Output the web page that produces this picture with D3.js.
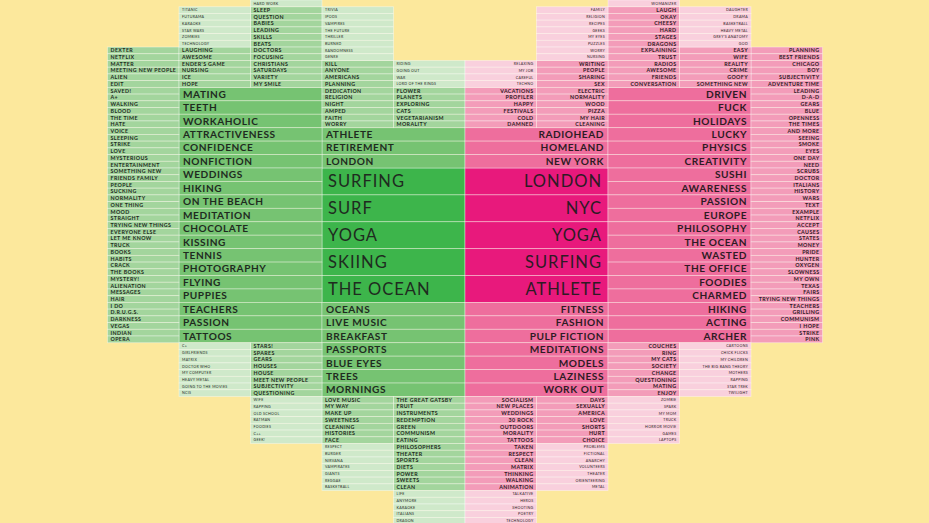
<!DOCTYPE html>
<html><head><meta charset="utf-8">
<script src="https://cdn.jsdelivr.net/npm/d3@7"></script>
<style>html,body{margin:0;padding:0;background:#fce89c;overflow:hidden}</style>
</head><body>
<svg id="chart" width="929" height="523"></svg>
<script>
// ---------- DATA (green side) ----------
const greenLarge = ["SURFING","SURF","YOGA","SKIING","THE OCEAN"];
const greenMediumTop = ["ATHLETE","RETIREMENT","LONDON"];
const greenMediumSide = ["MATING","TEETH","WORKAHOLIC","ATTRACTIVENESS","CONFIDENCE","NONFICTION","WEDDINGS","HIKING","ON THE BEACH","MEDITATION","CHOCOLATE","KISSING","TENNIS","PHOTOGRAPHY","FLYING","PUPPIES","TEACHERS","PASSION","TATTOOS"];
const greenMediumBottom = ["OCEANS","LIVE MUSIC","BREAKFAST","PASSPORTS","BLUE EYES","TREES","MORNINGS"];
const greenSmallA = ["DEXTER","NETFLIX","MATTER","MEETING NEW PEOPLE","ALIEN","EDIT","SAVED!","A+","WALKING","BLOOD","THE TIME","HATE","VOICE","SLEEPING","STRIKE","LOVE","MYSTERIOUS","ENTERTAINMENT","SOMETHING NEW","FRIENDS FAMILY","PEOPLE","SUCKING","NORMALITY","ONE THING","MOOD","STRAIGHT","TRYING NEW THINGS","EVERYONE ELSE","LET ME KNOW","TRUCK","BOOKS","HABITS","CRACK","THE BOOKS","MYSTERY!","ALIENATION","MESSAGES","HAIR","I DO","D.R.U.G.S.","DARKNESS","VEGAS","INDIAN","OPERA"];
const greenSmallB = ["LAUGHING","AWESOME","ENDER'S GAME","NURSING","ICE","HOPE"];
const greenSmallC = ["SLEEP","QUESTION","BABIES","LEADING","SKILLS","BEATS","DOCTORS","FOCUSING","CHRISTIANS","SATURDAYS","VARIETY","MY SMILE"];
const greenSmallD = ["KILL","ANYONE","AMERICANS","PLANNING","DEDICATION","RELIGION","NIGHT","AMPED","FAITH","WORRY"];
const greenSmallE = ["FLOWER","PLANETS","EXPLORING","CATS","VEGETARIANISM","MORALITY"];
const greenSmallC2 = ["STARS!","SPARES","GEARS","HOUSES","HOUSE","MEET NEW PEOPLE","SUBJECTIVITY","QUESTIONING"];
const greenSmallD2 = ["LOVE MUSIC","MY WAY","MAKE UP","SWEETNESS","CLEANING","HISTORIES","FACE"];
const greenSmallE2 = ["THE GREAT GATSBY","FRUIT","INSTRUMENTS","REDEMPTION","GREEN","COMMUNISM","EATING","PHILOSOPHERS","THEATER","SPORTS","DIETS","POWER","SWEETS","CLEAN"];
const greenTinyB = ["TITANIC","FUTURAMA","KARAOKE","STAR WARS","ZOMBIES","TECHNOLOGY"];
const greenTinyC = ["HARD WORK"];
const greenTinyD = ["TRIVIA","IPODS","VAMPIRES","THE FUTURE","THRILLER","BURNED","RANDOMNESS","GENRE"];
const greenTinyE = ["RIDING","GOING OUT","WAR","LORD OF THE RINGS"];
const greenTinyB2 = ["C+","GIRLFRIENDS","MATRIX","DOCTOR WHO","MY COMPUTER","HEAVY METAL","GOING TO THE MOVIES","NCIS"];
const greenTinyC2 = ["WIFE","RAPPING","OLD SCHOOL","BATMAN","FOODIES","C++","GEEK!"];
const greenTinyD2 = ["RESPECT","BURGER","NIRVANA","VAMPIRATES","GIANTS","REGGAE","BASKETBALL"];
const greenTinyE2 = ["LIFE","ANYMORE","KARAOKE","ITALIANS","DRAGON"];

// ---------- DATA (pink side) ----------
const pinkLarge = ["LONDON","NYC","YOGA","SURFING","ATHLETE"];
const pinkMediumTop = ["RADIOHEAD","HOMELAND","NEW YORK"];
const pinkMediumSide = ["DRIVEN","FUCK","HOLIDAYS","LUCKY","PHYSICS","CREATIVITY","SUSHI","AWARENESS","PASSION","EUROPE","PHILOSOPHY","THE OCEAN","WASTED","THE OFFICE","FOODIES","CHARMED","HIKING","ACTING","ARCHER"];
const pinkMediumBottom = ["FITNESS","FASHION","PULP FICTION","MEDITATIONS","MODELS","LAZINESS","WORK OUT"];
const pinkSmallJ = ["PLANNING","BEST FRIENDS","CHICAGO","BOY","SUBJECTIVITY","ADVENTURE TIME","LEADING","D-A-D","GEARS","BLUE","OPENNESS","THE TIMES","AND MORE","SEEING","SMOKE","EYES","ONE DAY","NEED","SCRUBS","DOCTOR","ITALIANS","HISTORY","WARS","TEXT","EXAMPLE","NETFLIX","ACCEPT","CAUSES","STATES","MONEY","PRIDE","HUNTER","OXYGEN","SLOWNESS","MY OWN","TEXAS","FAIRS","TRYING NEW THINGS","TEACHERS","GRILLING","COMMUNISM","I HOPE","STRIKE","PINK"];
const pinkSmallI = ["EASY","WIFE","REALITY","CRIME","GOOFY","SOMETHING NEW"];
const pinkSmallH = ["LAUGH","OKAY","CHEESY","HARD","STAGES","DRAGONS","EXPLAINING","TRUST","RADIOS","AWESOME","FRIENDS","CONVERSATION"];
const pinkSmallG = ["WRITING","PEOPLE","SHARING","SEX","ELECTRIC","NORMALITY","WOOD","PIZZA","MY HAIR","CLEANING"];
const pinkSmallF = ["VACATIONS","PROFILER","HAPPY","FESTIVALS","COLD","DAMNED"];
const pinkSmallH2 = ["COUCHES","RING","MY CATS","SOCIETY","CHANGE","QUESTIONING","MATING","ENJOY"];
const pinkSmallG2 = ["DAYS","SEXUALLY","AMERICA","LOVE","SHORTS","HURT","CHOICE"];
const pinkSmallF2 = ["SOCIALISM","NEW PLACES","WEDDINGS","30 ROCK","OUTDOORS","MORALITY","TATTOOS","TAKEN","RESPECT","CLEAN","MATRIX","THINKING","WALKING","ANIMATION"];
const pinkTinyI = ["DAUGHTER","DRAMA","BASKETBALL","HEAVY METAL","GREY'S ANATOMY","GOD"];
const pinkTinyH = ["WOMANIZER"];
const pinkTinyG = ["FAMILY","RELIGION","RECIPES","GEEKS","MY EYES","PUZZLES","WORRY","NURSING"];
const pinkTinyF = ["RELAXING","MY JOB","CAREFUL","TECHNO"];
const pinkTinyI2 = ["CARTOONS","CHICK FLICKS","MY CHILDREN","THE BIG BANG THEORY","MOTHERS","RAPPING","STAR TREK","TWILIGHT"];
const pinkTinyH2 = ["ZOMBIE","SPARK","MY MOM","TRUCK","HORROR MOVIE","GAMES","LAPTOPS"];
const pinkTinyG2 = ["PROBLEMS","FICTIONAL","ANARCHY","VOLUNTEERS","THEATER","ORIENTEERING","METAL"];
const pinkTinyF2 = ["TALKATIVE","HEROS","SHOOTING","POETRY","TECHNOLOGY"];

// ---------- LAYOUT ----------
const tiers = {
  large:  {cs:2, rs:4, fs:16.5, ls:1.0, fw:400, pad:6},
  medium: {cs:2, rs:2, fs:10.1, ls:0.55, fw:700, pad:4},
  small:  {cs:1, rs:1, fs:5.3,  ls:0.4, fw:700, pad:3},
  tiny:   {cs:1, rs:1, fs:3.6,  ls:0.3, fw:400, pad:3}
};
const fills = {
  g:{large:"#3db54b", medium:"#76c372", small:"#a3d59d", tiny:"#cfe9ca"},
  p:{large:"#e8197c", medium:"#ee6e9d", small:"#f39cb9", tiny:"#f9d0dd"}
};
const blocks = [
  [greenLarge,"g","large",3,25],[greenMediumTop,"g","medium",3,19],[greenMediumSide,"g","medium",1,13],[greenMediumBottom,"g","medium",3,45],
  [greenSmallA,"g","small",0,7],[greenSmallB,"g","small",1,7],[greenSmallC,"g","small",2,1],[greenSmallD,"g","small",3,9],[greenSmallE,"g","small",4,13],
  [greenSmallC2,"g","small",2,51],[greenSmallD2,"g","small",3,59],[greenSmallE2,"g","small",4,59],
  [greenTinyB,"g","tiny",1,1],[greenTinyC,"g","tiny",2,0],[greenTinyD,"g","tiny",3,1],[greenTinyE,"g","tiny",4,9],
  [greenTinyB2,"g","tiny",1,51],[greenTinyC2,"g","tiny",2,59],[greenTinyD2,"g","tiny",3,66],[greenTinyE2,"g","tiny",4,73],
  [pinkLarge,"p","large",5,25],[pinkMediumTop,"p","medium",5,19],[pinkMediumSide,"p","medium",7,13],[pinkMediumBottom,"p","medium",5,45],
  [pinkSmallJ,"p","small",9,7],[pinkSmallI,"p","small",8,7],[pinkSmallH,"p","small",7,1],[pinkSmallG,"p","small",6,9],[pinkSmallF,"p","small",5,13],
  [pinkSmallH2,"p","small",7,51],[pinkSmallG2,"p","small",6,59],[pinkSmallF2,"p","small",5,59],
  [pinkTinyI,"p","tiny",8,1],[pinkTinyH,"p","tiny",7,0],[pinkTinyG,"p","tiny",6,1],[pinkTinyF,"p","tiny",5,9],
  [pinkTinyI2,"p","tiny",8,51],[pinkTinyH2,"p","tiny",7,59],[pinkTinyG2,"p","tiny",6,66],[pinkTinyF2,"p","tiny",5,73]
];

const cells = [];
blocks.forEach(([words, side, tier, col, row]) => {
  const t = tiers[tier];
  words.forEach((w, i) => cells.push({word:w, side, tier, col, row: row + i*t.rs, cs:t.cs, rs:t.rs}));
});

const x = d3.scaleLinear().domain([0,10]).range([107.5,822.5]);
const y = d3.scaleLinear().domain([0,78]).range([0,78*6.72]);

const svg = d3.select("#chart");
svg.append("rect").attr("width",929).attr("height",523).attr("fill","#fce89c");

const g = svg.selectAll("g.cell").data(cells).join("g").attr("class","cell");
g.append("rect")
  .attr("x", d => x(d.col)).attr("y", d => y(d.row))
  .attr("width", d => x(d.col + d.cs) - x(d.col)).attr("height", d => y(d.row + d.rs) - y(d.row))
  .attr("fill", d => fills[d.side][d.tier])
  .attr("stroke", "#ffffff").attr("stroke-opacity", 0.45).attr("stroke-width", 0.8);
g.append("text")
  .attr("x", d => d.side === "g" ? x(d.col) + tiers[d.tier].pad : x(d.col + d.cs) - tiers[d.tier].pad)
  .attr("y", d => (y(d.row) + y(d.row + d.rs)) / 2)
  .attr("dy", "0.36em")
  .attr("text-anchor", d => d.side === "g" ? "start" : "end")
  .attr("font-family", "Lato, 'Noto Sans', sans-serif")
  .attr("font-size", d => tiers[d.tier].fs)
  .attr("font-weight", d => tiers[d.tier].fw)
  .attr("letter-spacing", d => tiers[d.tier].ls)
  .attr("fill", d => d.side === "g" ? "#1f2b1f" : "#2e1b24")
  .text(d => d.word);
</script>
</body></html>
